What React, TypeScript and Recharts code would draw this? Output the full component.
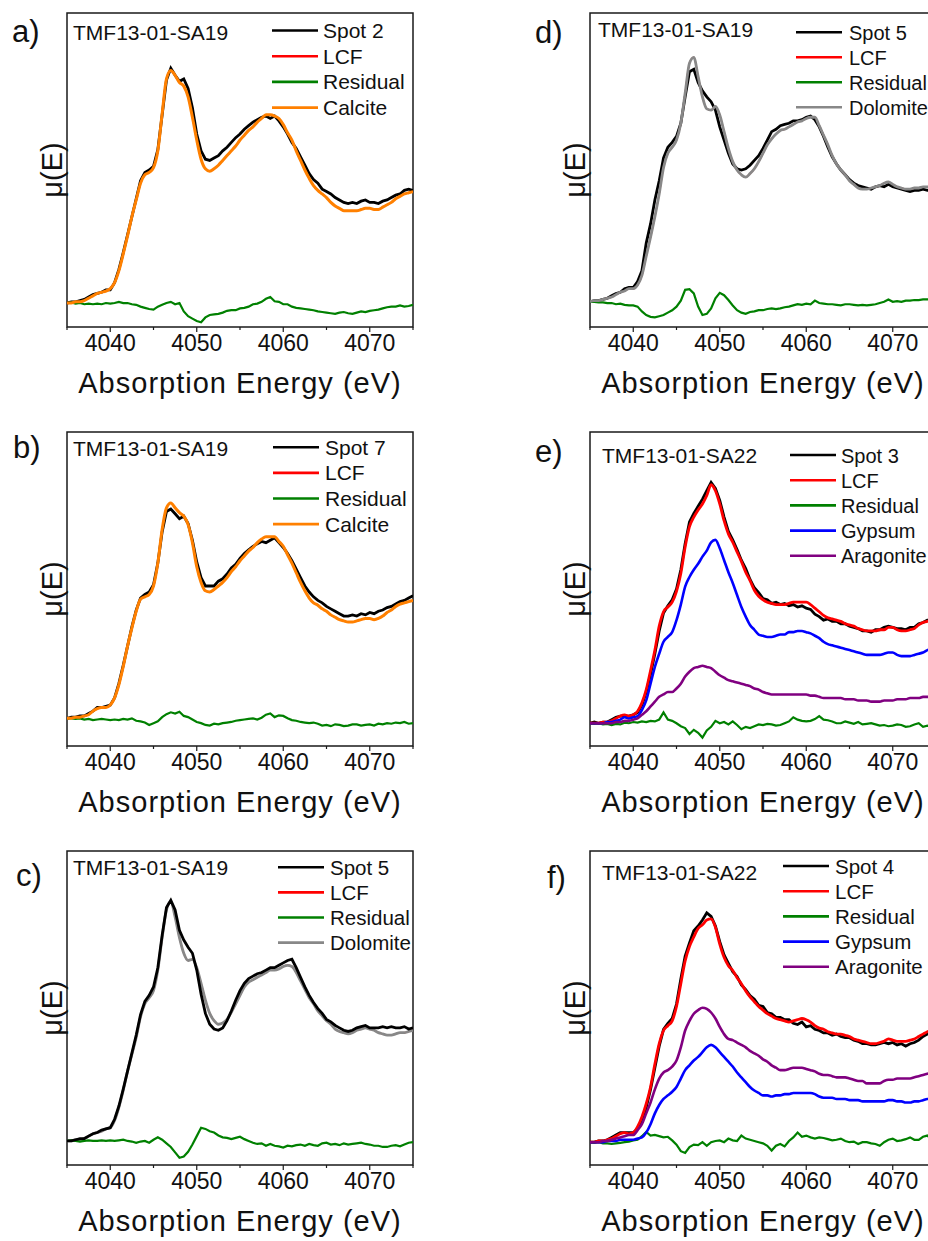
import { LineChart, Line, XAxis, YAxis, ReferenceArea } from 'recharts';

// energy grid, 0.5 eV steps
const energy = [
  4035, 4035.5, 4036, 4036.5, 4037, 4037.5, 4038, 4038.5, 4039, 4039.5,
  4040, 4040.5, 4041, 4041.5, 4042, 4042.5, 4043, 4043.5, 4044, 4044.5,
  4045, 4045.5, 4046, 4046.5, 4047, 4047.5, 4048, 4048.5, 4049, 4049.5,
  4050, 4050.5, 4051, 4051.5, 4052, 4052.5, 4053, 4053.5, 4054, 4054.5,
  4055, 4055.5, 4056, 4056.5, 4057, 4057.5, 4058, 4058.5, 4059, 4059.5,
  4060, 4060.5, 4061, 4061.5, 4062, 4062.5, 4063, 4063.5, 4064, 4064.5,
  4065, 4065.5, 4066, 4066.5, 4067, 4067.5, 4068, 4068.5, 4069, 4069.5,
  4070, 4070.5, 4071, 4071.5, 4072, 4072.5, 4073, 4073.5, 4074, 4074.5,
  4075,
];
const xTicks = [4035, 4040, 4045, 4050, 4055, 4060, 4065, 4070, 4075];

// a) TMF13-01-SA19, spot 2
const spotA = [
  0.00, 0.01, 0.01, 0.02, 0.03, 0.05, 0.07, 0.08, 0.09, 0.11,
  0.11, 0.17, 0.28, 0.42, 0.57, 0.72, 0.87, 1.02, 1.09, 1.11,
  1.14, 1.28, 1.57, 1.86, 1.96, 1.90, 1.85, 1.87, 1.79, 1.63,
  1.41, 1.27, 1.20, 1.19, 1.21, 1.23, 1.27, 1.30, 1.34, 1.38,
  1.41, 1.45, 1.48, 1.51, 1.53, 1.55, 1.56, 1.54, 1.56, 1.52,
  1.47, 1.41, 1.34, 1.29, 1.22, 1.15, 1.08, 1.03, 1.00, 0.95,
  0.93, 0.91, 0.88, 0.86, 0.84, 0.83, 0.84, 0.83, 0.85, 0.86,
  0.84, 0.84, 0.83, 0.85, 0.86, 0.88, 0.90, 0.91, 0.94, 0.95,
  0.94,
];
const calciteA = [
  0.00, 0.00, 0.01, 0.01, 0.02, 0.04, 0.06, 0.08, 0.09, 0.10,
  0.12, 0.17, 0.27, 0.41, 0.56, 0.72, 0.86, 1.00, 1.07, 1.09,
  1.13, 1.27, 1.58, 1.87, 1.94, 1.90, 1.84, 1.81, 1.72, 1.55,
  1.36, 1.20, 1.12, 1.10, 1.12, 1.15, 1.19, 1.23, 1.27, 1.31,
  1.36, 1.40, 1.44, 1.47, 1.51, 1.54, 1.57, 1.57, 1.56, 1.54,
  1.49, 1.42, 1.36, 1.27, 1.19, 1.11, 1.04, 0.98, 0.94, 0.91,
  0.88, 0.84, 0.81, 0.79, 0.77, 0.77, 0.77, 0.77, 0.78, 0.79,
  0.79, 0.78, 0.78, 0.80, 0.82, 0.84, 0.87, 0.89, 0.91, 0.92,
  0.93,
];
const residualA = [
  0.00, 0.005, -0.005, 0.00, -0.01, -0.005, -0.01, -0.005, -0.01, 0.00,
  -0.005, 0.00, 0.01, 0.00, 0.00, -0.01, -0.015, -0.03, -0.04, -0.05,
  -0.055, -0.03, -0.015, 0.00, 0.01, -0.01, 0.00, -0.07, -0.11, -0.13,
  -0.15, -0.16, -0.12, -0.10, -0.095, -0.09, -0.08, -0.065, -0.06, -0.06,
  -0.045, -0.04, -0.03, -0.01, -0.005, 0.01, 0.035, 0.05, 0.015, 0.01,
  -0.01, -0.01, -0.03, -0.04, -0.045, -0.05, -0.055, -0.06, -0.07, -0.075,
  -0.08, -0.085, -0.09, -0.08, -0.075, -0.085, -0.09, -0.08, -0.07, -0.075,
  -0.065, -0.06, -0.055, -0.045, -0.035, -0.03, -0.03, -0.02, -0.03, -0.025,
  -0.015,
];

// b) TMF13-01-SA19, spot 7
const spotB = [
  0.00, 0.01, 0.01, 0.02, 0.02, 0.04, 0.06, 0.09, 0.09, 0.10,
  0.11, 0.17, 0.29, 0.44, 0.60, 0.76, 0.90, 1.00, 1.03, 1.05,
  1.11, 1.29, 1.55, 1.72, 1.74, 1.70, 1.66, 1.68, 1.62, 1.48,
  1.30, 1.17, 1.10, 1.10, 1.10, 1.14, 1.16, 1.20, 1.25, 1.28,
  1.33, 1.37, 1.40, 1.43, 1.45, 1.47, 1.46, 1.48, 1.50, 1.46,
  1.42, 1.37, 1.31, 1.24, 1.17, 1.10, 1.05, 1.01, 0.98, 0.96,
  0.93, 0.91, 0.89, 0.87, 0.85, 0.85, 0.86, 0.85, 0.87, 0.86,
  0.88, 0.87, 0.89, 0.90, 0.92, 0.93, 0.95, 0.97, 0.98, 1.00,
  1.02,
];
const calciteB = [
  0.00, 0.00, 0.01, 0.01, 0.02, 0.03, 0.06, 0.08, 0.09, 0.09,
  0.11, 0.17, 0.28, 0.43, 0.60, 0.75, 0.89, 0.99, 1.01, 1.03,
  1.10, 1.29, 1.57, 1.75, 1.79, 1.75, 1.71, 1.68, 1.61, 1.46,
  1.26, 1.13, 1.06, 1.05, 1.07, 1.10, 1.13, 1.17, 1.22, 1.26,
  1.31, 1.35, 1.39, 1.42, 1.46, 1.49, 1.51, 1.51, 1.51, 1.47,
  1.43, 1.36, 1.29, 1.21, 1.13, 1.06, 1.00, 0.96, 0.94, 0.91,
  0.89, 0.86, 0.84, 0.82, 0.81, 0.80, 0.80, 0.81, 0.82, 0.83,
  0.83, 0.82, 0.83, 0.85, 0.88, 0.90, 0.93, 0.95, 0.96, 0.97,
  0.98,
];
const residualB = [
  0.00, 0.00, -0.005, 0.00, -0.01, -0.005, -0.015, -0.01, -0.005, -0.01,
  -0.015, -0.01, -0.015, -0.005, -0.01, 0.00, -0.02, -0.025, -0.035, -0.055,
  -0.04, -0.025, 0.01, 0.035, 0.05, 0.04, 0.055, 0.02, 0.01, -0.01,
  -0.03, -0.04, -0.055, -0.06, -0.045, -0.05, -0.04, -0.035, -0.03, -0.02,
  -0.015, -0.01, -0.005, 0.00, -0.01, 0.005, 0.03, 0.04, 0.01, 0.025,
  0.02, 0.00, -0.015, -0.02, -0.03, -0.035, -0.04, -0.035, -0.045, -0.06,
  -0.055, -0.065, -0.05, -0.055, -0.065, -0.06, -0.05, -0.05, -0.06, -0.055,
  -0.05, -0.06, -0.045, -0.05, -0.04, -0.045, -0.035, -0.04, -0.03, -0.045,
  -0.04,
];

// c) TMF13-01-SA19, spot 5
const spotC = [
  0.00, 0.00, 0.01, 0.02, 0.02, 0.04, 0.06, 0.07, 0.09, 0.10,
  0.11, 0.18, 0.29, 0.43, 0.58, 0.73, 0.88, 1.05, 1.16, 1.21,
  1.28, 1.44, 1.71, 1.94, 2.00, 1.92, 1.75, 1.67, 1.61, 1.56,
  1.42, 1.22, 1.06, 0.97, 0.93, 0.92, 0.94, 1.00, 1.08, 1.17,
  1.25, 1.31, 1.35, 1.37, 1.39, 1.40, 1.42, 1.44, 1.44, 1.46,
  1.48, 1.50, 1.51, 1.44, 1.36, 1.28, 1.21, 1.15, 1.10, 1.06,
  1.01, 0.99, 0.96, 0.94, 0.92, 0.91, 0.92, 0.94, 0.95, 0.96,
  0.94, 0.94, 0.94, 0.95, 0.94, 0.95, 0.94, 0.94, 0.95, 0.93,
  0.94,
];
const dolomiteC = [
  0.00, 0.00, 0.01, 0.01, 0.02, 0.04, 0.06, 0.07, 0.08, 0.10,
  0.11, 0.17, 0.28, 0.42, 0.58, 0.72, 0.86, 1.03, 1.14, 1.19,
  1.25, 1.42, 1.69, 1.92, 1.99, 1.86, 1.69, 1.56, 1.50, 1.51,
  1.44, 1.31, 1.17, 1.06, 1.00, 0.97, 0.98, 1.01, 1.07, 1.14,
  1.21, 1.28, 1.32, 1.34, 1.36, 1.38, 1.40, 1.42, 1.42, 1.43,
  1.45, 1.46, 1.45, 1.40, 1.33, 1.26, 1.19, 1.14, 1.08, 1.04,
  1.00, 0.97, 0.93, 0.91, 0.90, 0.89, 0.90, 0.92, 0.93, 0.94,
  0.93, 0.92, 0.90, 0.89, 0.88, 0.88, 0.89, 0.90, 0.90, 0.91,
  0.92,
];
const residualC = [
  0.00, 0.005, 0.00, -0.005, 0.00, 0.005, 0.00, 0.00, 0.005, 0.00,
  0.005, 0.00, 0.005, 0.01, 0.00, -0.005, -0.015, -0.005, 0.00, -0.015,
  0.01, 0.03, 0.01, -0.02, -0.05, -0.095, -0.14, -0.13, -0.09, -0.03,
  0.04, 0.11, 0.10, 0.08, 0.07, 0.045, 0.03, 0.025, 0.015, 0.025,
  0.035, 0.015, 0.00, -0.015, -0.025, -0.02, -0.04, -0.025, -0.04, -0.045,
  -0.055, -0.04, -0.045, -0.035, -0.03, -0.04, -0.025, -0.035, -0.04, -0.02,
  -0.015, -0.03, -0.025, -0.035, -0.02, -0.03, -0.025, -0.02, -0.015, -0.025,
  -0.03, -0.04, -0.04, -0.05, -0.05, -0.04, -0.035, -0.045, -0.03, -0.015,
  -0.01,
];

// d) TMF13-01-SA19, spot 5
const spotD = [
  0.00, 0.01, 0.01, 0.02, 0.03, 0.05, 0.07, 0.08, 0.11, 0.12,
  0.12, 0.17, 0.26, 0.49, 0.65, 0.85, 1.01, 1.20, 1.29, 1.33,
  1.38, 1.49, 1.71, 1.92, 1.94, 1.83, 1.76, 1.71, 1.67, 1.60,
  1.46, 1.35, 1.24, 1.15, 1.11, 1.10, 1.11, 1.14, 1.18, 1.22,
  1.28, 1.35, 1.42, 1.44, 1.47, 1.48, 1.49, 1.51, 1.51, 1.52,
  1.54, 1.55, 1.52, 1.46, 1.38, 1.29, 1.21, 1.15, 1.10, 1.06,
  1.02, 0.99, 0.97, 0.96, 0.95, 0.94, 0.96, 0.97, 0.96, 0.98,
  0.96, 0.95, 0.94, 0.93, 0.92, 0.93, 0.93, 0.94, 0.93, 0.94,
  0.94,
];
const dolomiteD = [
  0.00, 0.01, 0.01, 0.02, 0.03, 0.04, 0.06, 0.08, 0.09, 0.11,
  0.11, 0.14, 0.22, 0.38, 0.54, 0.71, 0.90, 1.12, 1.24, 1.29,
  1.35, 1.49, 1.74, 1.99, 2.04, 1.88, 1.71, 1.61, 1.60, 1.63,
  1.56, 1.42, 1.28, 1.17, 1.10, 1.06, 1.04, 1.07, 1.11, 1.17,
  1.24, 1.31, 1.36, 1.40, 1.43, 1.44, 1.46, 1.48, 1.50, 1.51,
  1.53, 1.54, 1.54, 1.47, 1.39, 1.31, 1.22, 1.15, 1.10, 1.06,
  1.01, 0.98, 0.95, 0.94, 0.94, 0.95, 0.96, 0.97, 0.99, 1.00,
  0.98, 0.96, 0.95, 0.94, 0.94, 0.95, 0.95, 0.96, 0.96, 0.96,
  0.96,
];
const residualD = [
  0.00, 0.00, -0.005, -0.005, -0.01, -0.01, -0.02, -0.015, -0.025, -0.03,
  -0.03, -0.04, -0.08, -0.11, -0.125, -0.13, -0.12, -0.11, -0.09, -0.07,
  -0.04, 0.01, 0.10, 0.105, 0.07, -0.04, -0.11, -0.10, -0.055, 0.03,
  0.075, 0.055, 0.015, -0.03, -0.07, -0.09, -0.10, -0.085, -0.08, -0.07,
  -0.07, -0.06, -0.055, -0.06, -0.055, -0.045, -0.04, -0.03, -0.02, -0.025,
  -0.015, -0.02, 0.01, -0.01, -0.015, -0.02, -0.02, -0.025, -0.03, -0.02,
  -0.02, -0.025, -0.03, -0.025, -0.03, -0.025, -0.02, -0.01, 0.00, 0.02,
  0.00, 0.005, 0.00, 0.01, 0.01, 0.015, 0.015, 0.02, 0.02, 0.025,
  0.02,
];

// e) TMF13-01-SA22, spot 3
const spotE = [
  0.00, 0.01, 0.00, 0.01, 0.01, 0.03, 0.05, 0.06, 0.06, 0.06,
  0.07, 0.09, 0.15, 0.26, 0.41, 0.58, 0.77, 0.92, 0.98, 1.03,
  1.12, 1.28, 1.50, 1.68, 1.75, 1.81, 1.87, 1.94, 2.01, 1.96,
  1.86, 1.72, 1.60, 1.53, 1.45, 1.36, 1.29, 1.20, 1.13, 1.09,
  1.04, 1.03, 1.00, 1.01, 0.99, 1.00, 0.98, 0.99, 0.97, 0.98,
  0.96, 0.95, 0.91, 0.89, 0.86, 0.87, 0.85, 0.85, 0.83, 0.83,
  0.81, 0.80, 0.79, 0.77, 0.77, 0.76, 0.78, 0.78, 0.80, 0.81,
  0.80, 0.79, 0.79, 0.78, 0.80, 0.80, 0.83, 0.84, 0.86, 0.86,
  0.88,
];
const lcfE = [
  0.00, 0.00, 0.00, 0.01, 0.01, 0.02, 0.04, 0.06, 0.07, 0.06,
  0.07, 0.10, 0.17, 0.28, 0.44, 0.61, 0.81, 0.93, 0.97, 1.01,
  1.10, 1.25, 1.47, 1.64, 1.72, 1.78, 1.83, 1.90, 1.99, 1.94,
  1.83, 1.69, 1.58, 1.51, 1.43, 1.35, 1.26, 1.19, 1.11, 1.06,
  1.03, 1.01, 1.00, 0.99, 0.99, 0.99, 1.00, 1.01, 1.01, 1.01,
  1.01, 0.99, 0.96, 0.93, 0.90, 0.88, 0.87, 0.86, 0.85, 0.83,
  0.82, 0.81, 0.79, 0.78, 0.77, 0.77, 0.77, 0.78, 0.78, 0.80,
  0.80, 0.78, 0.77, 0.77, 0.78, 0.79, 0.82, 0.84, 0.85, 0.87,
  0.88,
];
const gypsumE = [
  0.00, 0.00, 0.00, 0.00, 0.01, 0.01, 0.02, 0.03, 0.05, 0.04,
  0.05, 0.06, 0.11, 0.19, 0.33, 0.47, 0.58, 0.68, 0.72, 0.76,
  0.86, 0.99, 1.14, 1.22, 1.28, 1.33, 1.39, 1.44, 1.51, 1.53,
  1.46, 1.36, 1.26, 1.17, 1.07, 0.97, 0.89, 0.82, 0.78, 0.74,
  0.73, 0.72, 0.72, 0.73, 0.74, 0.74, 0.76, 0.76, 0.77, 0.77,
  0.76, 0.75, 0.73, 0.71, 0.68, 0.66, 0.65, 0.64, 0.63, 0.62,
  0.61, 0.60, 0.59, 0.58, 0.57, 0.57, 0.57, 0.57, 0.58, 0.59,
  0.59, 0.57, 0.56, 0.56, 0.56, 0.57, 0.58, 0.59, 0.61, 0.62,
  0.63,
];
const aragoniteE = [
  0.00, 0.00, 0.00, 0.00, 0.00, 0.00, 0.01, 0.01, 0.02, 0.02,
  0.03, 0.04, 0.07, 0.10, 0.14, 0.18, 0.22, 0.24, 0.26, 0.26,
  0.29, 0.33, 0.39, 0.43, 0.46, 0.47, 0.48, 0.47, 0.46, 0.43,
  0.40, 0.38, 0.36, 0.35, 0.34, 0.33, 0.32, 0.31, 0.29, 0.28,
  0.26, 0.25, 0.24, 0.24, 0.24, 0.24, 0.24, 0.24, 0.24, 0.24,
  0.24, 0.23, 0.23, 0.22, 0.21, 0.21, 0.21, 0.21, 0.21, 0.20,
  0.20, 0.20, 0.19, 0.19, 0.19, 0.18, 0.18, 0.18, 0.19, 0.19,
  0.19, 0.20, 0.20, 0.20, 0.21, 0.21, 0.21, 0.22, 0.22, 0.22,
  0.22,
];
const residualE = [
  0.00, -0.005, 0.00, -0.01, -0.005, -0.015, -0.005, -0.01, 0.005, 0.00,
  0.01, 0.005, 0.015, 0.01, 0.02, 0.015, 0.03, 0.09, 0.03, 0.02,
  0.00, -0.025, -0.04, -0.09, -0.055, -0.08, -0.12, -0.06, -0.03, 0.02,
  0.00, 0.01, -0.01, 0.015, -0.015, -0.05, -0.03, -0.04, -0.025, -0.01,
  -0.015, -0.005, -0.01, -0.02, -0.015, 0.00, 0.015, 0.05, 0.03, 0.02,
  0.015, 0.02, 0.035, 0.06, 0.03, 0.025, 0.015, 0.00, 0.00, 0.015,
  0.005, -0.005, 0.01, -0.01, -0.005, 0.00, -0.01, -0.02, -0.015, -0.025,
  -0.02, -0.01, -0.015, -0.03, -0.025, -0.01, 0.00, -0.03, -0.02, -0.035,
  -0.03,
];

// f) TMF13-01-SA22, spot 4
const spotF = [
  0.00, 0.00, 0.01, 0.01, 0.02, 0.04, 0.06, 0.08, 0.08, 0.08,
  0.08, 0.11, 0.18, 0.29, 0.44, 0.62, 0.80, 0.94, 0.99, 1.03,
  1.15, 1.36, 1.55, 1.66, 1.76, 1.80, 1.85, 1.91, 1.88, 1.80,
  1.67, 1.56, 1.49, 1.42, 1.38, 1.31, 1.27, 1.22, 1.19, 1.14,
  1.13, 1.08, 1.07, 1.04, 1.04, 1.02, 1.02, 0.99, 0.98, 1.00,
  0.96, 0.97, 0.94, 0.93, 0.91, 0.91, 0.89, 0.90, 0.88, 0.87,
  0.87, 0.85, 0.84, 0.82, 0.82, 0.81, 0.81, 0.82, 0.83, 0.82,
  0.83, 0.81, 0.82, 0.80, 0.82, 0.83, 0.85, 0.88, 0.90, 0.91,
  0.93,
];
const lcfF = [
  0.00, 0.00, 0.01, 0.01, 0.02, 0.03, 0.05, 0.07, 0.08, 0.07,
  0.08, 0.13, 0.21, 0.32, 0.46, 0.65, 0.82, 0.93, 0.97, 1.01,
  1.13, 1.32, 1.51, 1.63, 1.71, 1.78, 1.81, 1.85, 1.86, 1.79,
  1.65, 1.54, 1.47, 1.43, 1.37, 1.32, 1.26, 1.21, 1.17, 1.13,
  1.10, 1.07, 1.05, 1.03, 1.02, 1.01, 1.00, 1.01, 1.02, 1.03,
  1.02, 1.00, 0.97, 0.95, 0.94, 0.92, 0.91, 0.90, 0.90, 0.89,
  0.88, 0.86, 0.85, 0.84, 0.83, 0.82, 0.82, 0.83, 0.84, 0.86,
  0.85, 0.84, 0.84, 0.84, 0.85, 0.86, 0.88, 0.90, 0.92, 0.93,
  0.94,
];
const gypsumF = [
  0.00, 0.00, 0.00, 0.00, 0.01, 0.01, 0.01, 0.02, 0.02, 0.02,
  0.02, 0.03, 0.04, 0.08, 0.15, 0.24, 0.31, 0.36, 0.39, 0.42,
  0.46, 0.53, 0.60, 0.64, 0.68, 0.71, 0.75, 0.79, 0.81, 0.79,
  0.75, 0.71, 0.67, 0.63, 0.58, 0.54, 0.50, 0.46, 0.43, 0.41,
  0.39, 0.39, 0.38, 0.39, 0.39, 0.40, 0.40, 0.41, 0.41, 0.41,
  0.41, 0.41, 0.40, 0.38, 0.37, 0.37, 0.37, 0.36, 0.36, 0.36,
  0.35, 0.35, 0.35, 0.34, 0.34, 0.34, 0.34, 0.34, 0.34, 0.35,
  0.35, 0.34, 0.34, 0.33, 0.33, 0.34, 0.34, 0.35, 0.36, 0.36,
  0.37,
];
const aragoniteF = [
  0.00, 0.00, 0.00, 0.01, 0.01, 0.02, 0.03, 0.04, 0.05, 0.06,
  0.06, 0.10, 0.15, 0.24, 0.33, 0.44, 0.53, 0.58, 0.60, 0.63,
  0.68, 0.79, 0.93, 1.01, 1.07, 1.10, 1.12, 1.11, 1.08, 1.03,
  0.96, 0.90, 0.86, 0.85, 0.83, 0.81, 0.79, 0.76, 0.74, 0.72,
  0.69, 0.67, 0.64, 0.62, 0.60, 0.60, 0.61, 0.62, 0.62, 0.62,
  0.61, 0.60, 0.59, 0.57, 0.56, 0.56, 0.55, 0.54, 0.54, 0.54,
  0.53, 0.52, 0.51, 0.51, 0.49, 0.49, 0.49, 0.49, 0.51, 0.52,
  0.52, 0.53, 0.53, 0.53, 0.53, 0.54, 0.55, 0.56, 0.57, 0.58,
  0.59,
];
const residualF = [
  0.00, -0.005, 0.00, -0.01, -0.01, -0.015, -0.01, -0.005, 0.00, 0.005,
  0.015, 0.02, 0.05, 0.085, 0.055, 0.06, 0.05, 0.04, 0.045, 0.015,
  -0.02, -0.075, -0.09, -0.04, -0.02, -0.025, 0.00, -0.03, 0.00, 0.01,
  0.015, 0.00, 0.03, 0.015, 0.01, 0.055, 0.03, 0.02, 0.01, 0.00,
  -0.01, -0.03, -0.07, -0.03, -0.015, -0.035, 0.01, 0.04, 0.08, 0.045,
  0.055, 0.04, 0.03, 0.04, 0.035, 0.025, 0.015, 0.02, 0.03, 0.01,
  0.00, 0.005, -0.015, 0.00, 0.00, -0.01, -0.015, -0.03, 0.00, 0.02,
  0.03, 0.01, 0.015, 0.025, 0.04, 0.02, 0.02, 0.045, 0.055, 0.02,
  0.03,
];

const BLACK = '#000000';
const RED = '#ff0000';
const GREEN = '#008000';
const ORANGE = '#ff8000';
const GRAY = '#888888';
const BLUE = '#0000ff';
const PURPLE = '#800080';

type Series = { key: string; name: string; values: number[]; color: string; width: number; smooth?: boolean };
type Panel = {
  id: string;
  left: number;
  top: number;
  domain: [number, number];
  sample: string;
  labelPos: [number, number];
  samplePos: [number, number];
  legend: { lineX: number; textX: number; y: number; gap: number; size: number };
  legendOrder: string[];
  series: Series[]; // draw order
};

const CHART_W = 425;
const CHART_H = 405;
const FONT = '"Liberation Sans", Arial, Helvetica, sans-serif';
const FRAME = '#1a1a1a';

const panels: Panel[] = [
  {
    id: 'a', left: 0, top: 0, domain: [-0.2, 2.42], sample: 'TMF13-01-SA19',
    labelPos: [12, 42], samplePos: [73, 40],
    legend: { lineX: 272, textX: 323, y: 30.5, gap: 25.7, size: 21 },
    legendOrder: ['spot', 'lcf', 'res', 'ref'],
    series: [
      { key: 'spot', name: 'Spot 2', values: spotA, color: BLACK, width: 2.8 },
      { key: 'lcf', name: 'LCF', values: calciteA, color: RED, width: 1.5, smooth: true },
      { key: 'res', name: 'Residual', values: residualA, color: GREEN, width: 2.2 },
      { key: 'ref', name: 'Calcite', values: calciteA, color: ORANGE, width: 3, smooth: true },
    ],
  },
  {
    id: 'b', left: 0, top: 419, domain: [-0.23, 2.38], sample: 'TMF13-01-SA19',
    labelPos: [13, 39], samplePos: [73, 37],
    legend: { lineX: 273, textX: 325, y: 28.3, gap: 25.6, size: 21 },
    legendOrder: ['spot', 'lcf', 'res', 'ref'],
    series: [
      { key: 'spot', name: 'Spot 7', values: spotB, color: BLACK, width: 2.8 },
      { key: 'lcf', name: 'LCF', values: calciteB, color: RED, width: 1.5, smooth: true },
      { key: 'res', name: 'Residual', values: residualB, color: GREEN, width: 2.2 },
      { key: 'ref', name: 'Calcite', values: calciteB, color: ORANGE, width: 3, smooth: true },
    ],
  },
  {
    id: 'c', left: 0, top: 838, domain: [-0.2, 2.41], sample: 'TMF13-01-SA19',
    labelPos: [16, 48], samplePos: [73, 37],
    legend: { lineX: 278, textX: 330, y: 29.3, gap: 25.1, size: 20.5 },
    legendOrder: ['spot', 'lcf', 'res', 'ref'],
    series: [
      { key: 'lcf', name: 'LCF', values: dolomiteC, color: RED, width: 1.5, smooth: true },
      { key: 'ref', name: 'Dolomite', values: dolomiteC, color: GRAY, width: 2.8, smooth: true },
      { key: 'res', name: 'Residual', values: residualC, color: GREEN, width: 2.2 },
      { key: 'spot', name: 'Spot 5', values: spotC, color: BLACK, width: 2.8 },
    ],
  },
  {
    id: 'd', left: 523, top: 0, domain: [-0.21, 2.41], sample: 'TMF13-01-SA19',
    labelPos: [12, 43], samplePos: [75, 37],
    legend: { lineX: 273, textX: 326, y: 32.3, gap: 25, size: 20 },
    legendOrder: ['spot', 'lcf', 'res', 'ref'],
    series: [
      { key: 'spot', name: 'Spot 5', values: spotD, color: BLACK, width: 2.8 },
      { key: 'lcf', name: 'LCF', values: dolomiteD, color: RED, width: 1.5, smooth: true },
      { key: 'res', name: 'Residual', values: residualD, color: GREEN, width: 2.2 },
      { key: 'ref', name: 'Dolomite', values: dolomiteD, color: GRAY, width: 2.8, smooth: true },
    ],
  },
  {
    id: 'e', left: 523, top: 419, domain: [-0.19, 2.43], sample: 'TMF13-01-SA22',
    labelPos: [12, 43], samplePos: [79, 44],
    legend: { lineX: 267, textX: 318, y: 36, gap: 25.2, size: 20 },
    legendOrder: ['spot', 'lcf', 'res', 'gyp', 'arag'],
    series: [
      { key: 'spot', name: 'Spot 3', values: spotE, color: BLACK, width: 2.8 },
      { key: 'lcf', name: 'LCF', values: lcfE, color: RED, width: 2.8, smooth: true },
      { key: 'res', name: 'Residual', values: residualE, color: GREEN, width: 2.2 },
      { key: 'gyp', name: 'Gypsum', values: gypsumE, color: BLUE, width: 2.6, smooth: true },
      { key: 'arag', name: 'Aragonite', values: aragoniteE, color: PURPLE, width: 2.6, smooth: true },
    ],
  },
  {
    id: 'f', left: 523, top: 838, domain: [-0.19, 2.425], sample: 'TMF13-01-SA22',
    labelPos: [24, 50], samplePos: [79, 42],
    legend: { lineX: 260, textX: 312, y: 28, gap: 25.2, size: 20.5 },
    legendOrder: ['spot', 'lcf', 'res', 'gyp', 'arag'],
    series: [
      { key: 'spot', name: 'Spot 4', values: spotF, color: BLACK, width: 2.8 },
      { key: 'lcf', name: 'LCF', values: lcfF, color: RED, width: 2.8, smooth: true },
      { key: 'res', name: 'Residual', values: residualF, color: GREEN, width: 2.2 },
      { key: 'gyp', name: 'Gypsum', values: gypsumF, color: BLUE, width: 2.6, smooth: true },
      { key: 'arag', name: 'Aragonite', values: aragoniteF, color: PURPLE, width: 2.6, smooth: true },
    ],
  },
];

const EnergyTick = (props: any) => {
  const { x, y, payload } = props;
  const major = payload.value % 10 === 0;
  return (
    <g>
      <line x1={x} x2={x} y1={y} y2={y + (major ? 5 : 3)} stroke={FRAME} strokeWidth={1.2} />
      {major && (
        <text x={x} y={y + 8} dy="0.71em" textAnchor="middle" fontSize={23} fill="#111">
          {payload.value}
        </text>
      )}
    </g>
  );
};

const SpectrumPanel = ({ panel }: { panel: Panel }) => {
  const rows = energy.map((e, i) => {
    const row: Record<string, number> = { e };
    panel.series.forEach((s) => {
      row[s.key] = s.values[i];
    });
    return row;
  });
  const byKey = Object.fromEntries(panel.series.map((s) => [s.key, s]));

  return (
    <div style={{ position: 'absolute', left: panel.left, top: panel.top, width: CHART_W, height: CHART_H }}>
      <LineChart width={CHART_W} height={CHART_H} data={rows} margin={{ top: 13, right: 12, bottom: 12, left: 37 }}>
        <XAxis
          dataKey="e"
          type="number"
          domain={[4035, 4075]}
          ticks={xTicks}
          interval={0}
          allowDataOverflow
          axisLine={false}
          tickLine={false}
          tickSize={0}
          tickMargin={0}
          tick={<EnergyTick />}
          height={66}
          label={{
            value: 'Absorption Energy (eV)',
            position: 'insideBottom',
            offset: 0,
            fontSize: 29,
            fill: '#111',
            letterSpacing: 1,
          }}
        />
        <YAxis
          type="number"
          domain={panel.domain}
          allowDataOverflow
          axisLine={false}
          tickLine={false}
          tick={false}
          width={30}
          label={{ value: 'μ(E)', angle: -90, position: 'center', fontSize: 29, fill: '#111' }}
        />
        <ReferenceArea
          x1={4035}
          x2={4075}
          y1={panel.domain[0]}
          y2={panel.domain[1]}
          fill="none"
          fillOpacity={0}
          stroke={FRAME}
          strokeWidth={1.5}
          ifOverflow="visible"
        />
        {panel.series.map((s) => (
          <Line
            key={s.key}
            dataKey={s.key}
            name={s.name}
            type={s.smooth ? 'monotone' : 'linear'}
            stroke={s.color}
            strokeWidth={s.width}
            dot={false}
            activeDot={false}
            isAnimationActive={false}
          />
        ))}
      </LineChart>
      <svg
        width={CHART_W}
        height={CHART_H}
        style={{ position: 'absolute', left: 0, top: 0, pointerEvents: 'none' }}
      >
        <text x={panel.labelPos[0]} y={panel.labelPos[1]} fontSize={31} fill="#111">
          {panel.id + ')'}
        </text>
        <text x={panel.samplePos[0]} y={panel.samplePos[1]} fontSize={21} fill="#111">
          {panel.sample}
        </text>
        {panel.legendOrder.map((k, i) => {
          const s = byKey[k];
          const y = panel.legend.y + i * panel.legend.gap;
          return (
            <g key={k}>
              <line x1={panel.legend.lineX} x2={panel.legend.lineX + 46} y1={y} y2={y} stroke={s.color} strokeWidth={2.6} />
              <text x={panel.legend.textX} y={y + 7.5} fontSize={panel.legend.size} fill="#111">
                {s.name}
              </text>
            </g>
          );
        })}
      </svg>
    </div>
  );
};

export default function App() {
  return (
    <div
      style={{
        position: 'absolute',
        left: 0,
        top: 0,
        width: 928,
        height: 1241,
        overflow: 'hidden',
        background: '#fff',
        fontFamily: FONT,
      }}
    >
      {panels.map((p) => (
        <SpectrumPanel key={p.id} panel={p} />
      ))}
    </div>
  );
}
